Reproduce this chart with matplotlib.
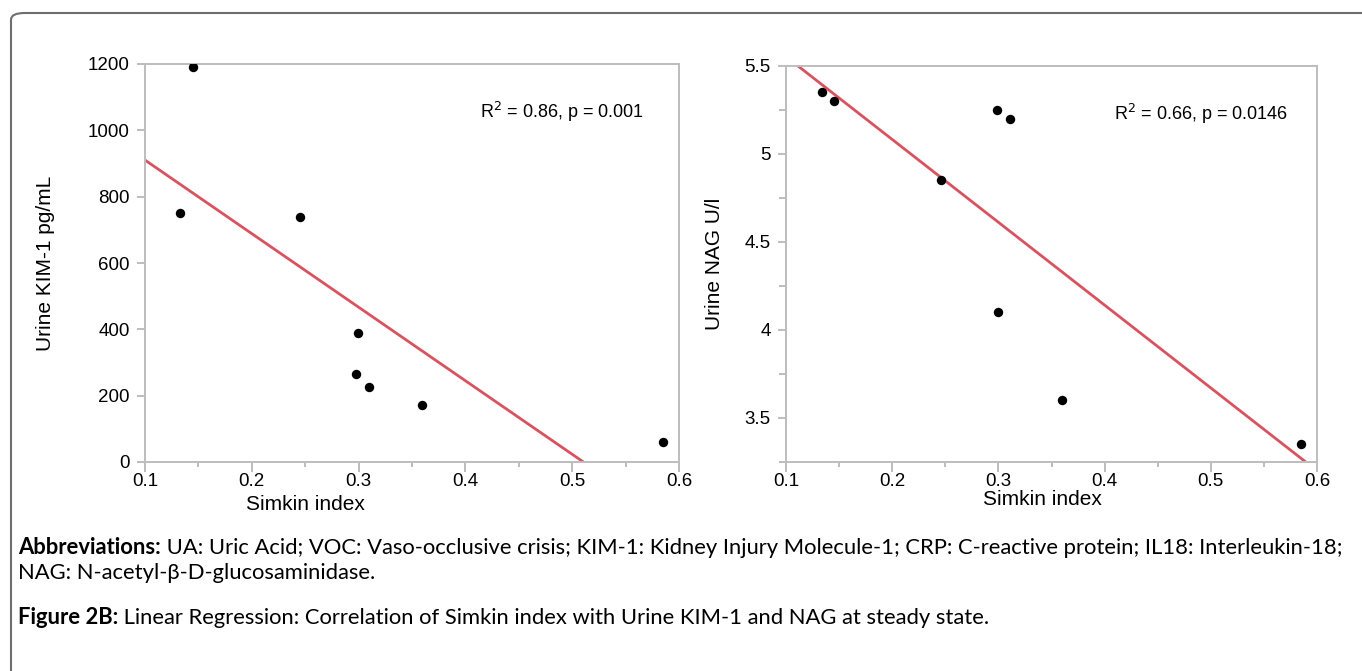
import numpy as np
import matplotlib
matplotlib.use("Agg")
import matplotlib.pyplot as plt
from matplotlib.patches import FancyBboxPatch
from matplotlib.ticker import MultipleLocator

# Simkin index vs urine markers
simkin_kim = [0.145, 0.133, 0.245, 0.299, 0.298, 0.310, 0.359, 0.585]
kim1 = [1190, 750, 740, 389, 266, 225, 173, 59]
simkin_nag = [0.1335, 0.1453, 0.2984, 0.311, 0.2457, 0.2996, 0.3596, 0.585]
nag = [5.35, 5.30, 5.25, 5.20, 4.85, 4.10, 3.60, 3.35]

stats_kim = "R$^2$ = 0.86, p = 0.001"
stats_nag = "R$^2$ = 0.66, p = 0.0146"

W, H = 1362, 671
fig = plt.figure(figsize=(W / 100, H / 100), dpi=100)
plt.rcParams['font.family'] = ['Liberation Sans', 'DejaVu Sans']

grey = '#bdbdbd'
red = '#d9525f'


def px_axes(x0, x1, y0, y1):
    return fig.add_axes([x0 / W, 1 - y1 / H, (x1 - x0) / W, (y1 - y0) / H])


def style(ax, xs, ys, ylim, ylabel, stats, stats_x, xlab_pos, ylab_pad, yminor=None):
    ax.scatter(xs, ys, s=46, color='black', zorder=3, linewidths=0)
    k, b = np.polyfit(xs, ys, 1)
    xx = np.array([0.1, 0.6])
    ax.plot(xx, k * xx + b, color=red, lw=2.0, zorder=2)
    ax.set_xlim(0.1, 0.6)
    ax.set_ylim(*ylim)
    ax.xaxis.set_major_locator(MultipleLocator(0.1))
    ax.xaxis.set_minor_locator(MultipleLocator(0.05))
    if yminor:
        ax.yaxis.set_minor_locator(MultipleLocator(yminor))
    for s in ax.spines.values():
        s.set_color(grey)
        s.set_linewidth(1.4)
    ax.tick_params(axis='x', which='major', length=7, width=1.4, color=grey,
                   labelsize=13.5, pad=1)
    ax.tick_params(axis='x', which='minor', length=3.5, width=1.4, color=grey)
    ax.tick_params(axis='y', which='major', length=6, width=1.4, color=grey,
                   labelsize=13.5, pad=5)
    ax.tick_params(axis='y', which='minor', length=5, width=1.4, color=grey)
    ax.set_ylabel(ylabel, fontsize=15, labelpad=ylab_pad)
    ax.set_xlabel('Simkin index', fontsize=15)
    ax.xaxis.label.set_va('center')
    ax.xaxis.set_label_coords(*xlab_pos)
    ax.text(stats_x, 0.88, stats, transform=ax.transAxes, fontsize=13,
            ha='left', va='center')


ax1 = px_axes(145, 679, 64, 462)
ax1.yaxis.set_major_locator(MultipleLocator(200))
style(ax1, simkin_kim, kim1, (0, 1200), 'Urine KIM-1 pg/mL', stats_kim,
      0.628, (0.30, -0.106), 24)

ax2 = px_axes(786, 1317, 66, 462)
ax2.set_yticks([3.5, 4, 4.5, 5, 5.5])
ax2.set_yticklabels(['3.5', '4', '4.5', '5', '5.5'])
style(ax2, simkin_nag, nag, (3.25, 5.5), 'Urine NAG U/l', stats_nag,
      0.618, (0.482, -0.094), 15, yminor=0.25)

# frame around the figure panel
box = FancyBboxPatch((11 / W, -0.1), 1.2, 1 - 13 / H + 0.1,
                     boxstyle='round,pad=0,rounding_size=0.01',
                     transform=fig.transFigure, fill=False,
                     edgecolor='#6e6e6e', lw=1.5, clip_on=False)
fig.patches.append(box)

# caption with bold lead-ins
cap_font = ['Lato', 'DejaVu Sans']
cap_size = 15.8
lines = [
    (548, 'Abbreviations:', ' UA: Uric Acid; VOC: Vaso-occlusive crisis; KIM-1: Kidney Injury Molecule-1; '
                            'CRP: C-reactive protein; IL18: Interleukin-18;'),
    (573, '', 'NAG: N-acetyl-\u03b2-D-glucosaminidase.'),
    (618, 'Figure 2B:', ' Linear Regression: Correlation of Simkin index with Urine KIM-1 and NAG at steady state.'),
]
fig.canvas.draw()
r = fig.canvas.get_renderer()
for y, bold, rest in lines:
    x = 18
    if bold:
        t = fig.text(x / W, 1 - y / H, bold, fontsize=cap_size, fontweight='bold',
                     family=cap_font, va='center', ha='left')
        x = t.get_window_extent(r).x1
    fig.text(x / W, 1 - y / H, rest, fontsize=cap_size, family=cap_font,
             va='center', ha='left')

fig.savefig('out.png', dpi=100)
